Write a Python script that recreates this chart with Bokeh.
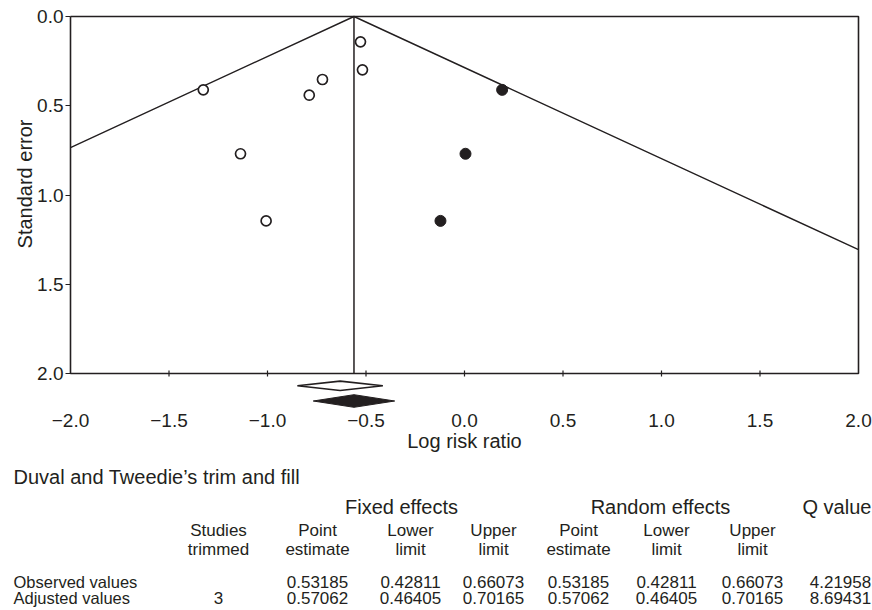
import numpy as np
from bokeh.plotting import figure
from bokeh.layouts import column, row
from bokeh.models import Range1d, FixedTicker, CustomJSTickFormatter
from bokeh.core.properties import value
from bokeh.embed import file_html
from bokeh.resources import INLINE

# ---------------- data ----------------
observed_log_rr = [-1.326, -1.137, -0.788, -0.721, -0.528, -0.518, -1.007]
observed_se = [0.411, 0.769, 0.441, 0.353, 0.142, 0.299, 1.145]
imputed_log_rr = [0.191, 0.005, -0.122]
imputed_se = [0.411, 0.769, 1.145]

x_ticks = [-2.0, -1.5, -1.0, -0.5, 0.0, 0.5, 1.0, 1.5, 2.0]
y_ticks = [0.0, 0.5, 1.0, 1.5, 2.0]

row_names = ["Observed values", "Adjusted values"]
studies_trimmed = ["", "3"]
fixed_point = [0.53185, 0.57062]
fixed_lower = [0.42811, 0.46405]
fixed_upper = [0.66073, 0.70165]
random_point = [0.53185, 0.57062]
random_lower = [0.42811, 0.46405]
random_upper = [0.66073, 0.70165]
q_value = [4.21958, 8.69431]

INK = "#231f20"
FONT = "Liberation Sans"

# ---------------- geometry ----------------
TOP_H = 458          # height of the chart row
LBL_W = 34           # width of the strip holding the y-axis title
X0, PX0, SX = -2.0, 70.0, 197.0
PY0, SY = 16.0, 178.5


def px2x(px):
    return X0 + (px - PX0) / SX


def px2y(py):
    return (py - PY0) / SY


def bare(fig):
    fig.outline_line_color = None
    fig.xgrid.grid_line_color = None
    fig.ygrid.grid_line_color = None
    fig.axis.visible = False
    fig.background_fill_color = "white"
    fig.border_fill_color = "white"
    fig.min_border = 0


# ---------------- y-axis title strip ----------------
lab = figure(width=LBL_W, height=TOP_H, x_range=Range1d(0, LBL_W),
             y_range=Range1d(TOP_H, 0), output_backend="svg",
             toolbar_location=None)
bare(lab)
lab.text(x=[24], y=[196], text=["Standard error"], angle=np.pi / 2,
         text_align="center", text_baseline="middle",
         text_font=value(FONT), text_font_size="20px", text_color=INK)

# ---------------- funnel plot ----------------
p = figure(width=872 - LBL_W, height=TOP_H,
           x_range=Range1d(px2x(68), px2x(860)),
           y_range=Range1d(px2y(410), px2y(14)),
           min_border_left=68 - LBL_W, min_border_right=12,
           min_border_top=14, min_border_bottom=TOP_H - 410,
           output_backend="svg", toolbar_location=None)
p.outline_line_color = None
p.xgrid.grid_line_color = None
p.ygrid.grid_line_color = None
p.background_fill_color = "white"
p.border_fill_color = "white"

xmin, xmax = x_ticks[0], x_ticks[-1]
ymin, ymax = y_ticks[0], y_ticks[-1]
p.line(x=[xmin, xmax, xmax, xmin, xmin], y=[ymin, ymin, ymax, ymax, ymin],
       line_color=INK, line_width=1.6)

inner = x_ticks[1:-1]
p.scatter(x=inner, y=[ymax] * len(inner), marker="dash",
          angle=np.pi / 2, size=6, line_color=INK, line_width=1.2)

mu = float(np.log(fixed_point[1]))
p.line(x=[mu, mu], y=[ymin, ymax], line_color=INK, line_width=1.5)
p.line(x=[xmin, mu, xmax],
       y=[(mu - xmin) / 1.96, 0.0, (xmax - mu) / 1.96],
       line_color=INK, line_width=1.4)

p.scatter(x=observed_log_rr, y=observed_se, marker="circle", size=10,
          fill_color="white", line_color=INK, line_width=1.7)
p.scatter(x=imputed_log_rr, y=imputed_se, marker="circle", size=11,
          fill_color=INK, line_color=INK, line_width=1.0)


def diamond(i, yc, hh):
    lo, pt, hi = np.log(fixed_lower[i]), np.log(fixed_point[i]), np.log(fixed_upper[i])
    return [lo, pt, hi, pt], [yc, yc - hh, yc, yc + hh]


dx, dy = diamond(0, px2y(385.3), 4.7 / SY)
p.patch(x=dx, y=dy, fill_color="white", line_color=INK, line_width=1.6)
dx, dy = diamond(1, px2y(400.5), 6.3 / SY)
p.patch(x=dx, y=dy, fill_color=INK, line_color=INK, line_width=1.0)

xa = p.xaxis[0]
xa.ticker = FixedTicker(ticks=x_ticks)
xa.formatter = CustomJSTickFormatter(
    code='return (tick < 0 ? "\\u2212" : "") + Math.abs(tick).toFixed(1);')
xa.axis_line_color = None
xa.major_tick_line_color = None
xa.minor_tick_line_color = None
xa.major_tick_in = 0
xa.major_tick_out = 0
xa.major_label_standoff = 3
xa.major_label_text_font = FONT
xa.major_label_text_font_size = "19px"
xa.major_label_text_color = INK
xa.axis_label = "Log risk ratio"
xa.axis_label_text_font = FONT
xa.axis_label_text_font_size = "20px"
xa.axis_label_text_font_style = "normal"
xa.axis_label_text_color = INK
xa.axis_label_standoff = 0

ya = p.yaxis[0]
ya.ticker = FixedTicker(ticks=y_ticks)
ya.formatter = CustomJSTickFormatter(code="return tick.toFixed(1);")
ya.axis_line_color = None
ya.minor_tick_line_color = None
ya.major_tick_line_color = INK
ya.major_tick_line_width = 1.2
ya.major_tick_in = 2
ya.major_tick_out = 3
ya.major_label_standoff = 2
ya.major_label_text_font = FONT
ya.major_label_text_font_size = "19px"
ya.major_label_text_color = INK

# ---------------- table ----------------
t = figure(width=872, height=610 - TOP_H, x_range=Range1d(0, 872),
           y_range=Range1d(610, TOP_H), output_backend="svg",
           toolbar_location=None)
bare(t)


def put(xs, ys, texts, size, align="center"):
    t.text(x=xs, y=ys, text=texts, text_align=align, text_baseline="middle",
           text_font=value(FONT), text_font_size=size, text_color=INK)


put([13], [476], ["Duval and Tweedie\u2019s trim and fill"], "20px", "left")
put([401, 660], [506, 506], ["Fixed effects", "Random effects"], "20px")
put([802], [506], ["Q value"], "20px", "left")

col_x = [218, 317, 410, 493, 578, 666, 752, 840]
hdr1 = ["Studies", "Point", "Lower", "Upper", "Point", "Lower", "Upper"]
hdr2 = ["trimmed", "estimate", "limit", "limit", "estimate", "limit", "limit"]
put(col_x[:7], [530] * 7, hdr1, "17px")
put(col_x[:7], [549] * 7, hdr2, "17px")

row_y = [581, 597.5]
put([13, 13], row_y, row_names, "16.5px", "left")
for i, ry in enumerate(row_y):
    vals = [studies_trimmed[i],
            f"{fixed_point[i]:.5f}", f"{fixed_lower[i]:.5f}", f"{fixed_upper[i]:.5f}",
            f"{random_point[i]:.5f}", f"{random_lower[i]:.5f}", f"{random_upper[i]:.5f}",
            f"{q_value[i]:.5f}"]
    xs = [cx for cx, v in zip(col_x, vals) if v]
    vs = [v for v in vals if v]
    put(xs, [ry] * len(xs), vs, "17px")

layout = column(row(lab, p, spacing=0), t, spacing=0)
open("out.html", "w").write(file_html(layout, INLINE))
